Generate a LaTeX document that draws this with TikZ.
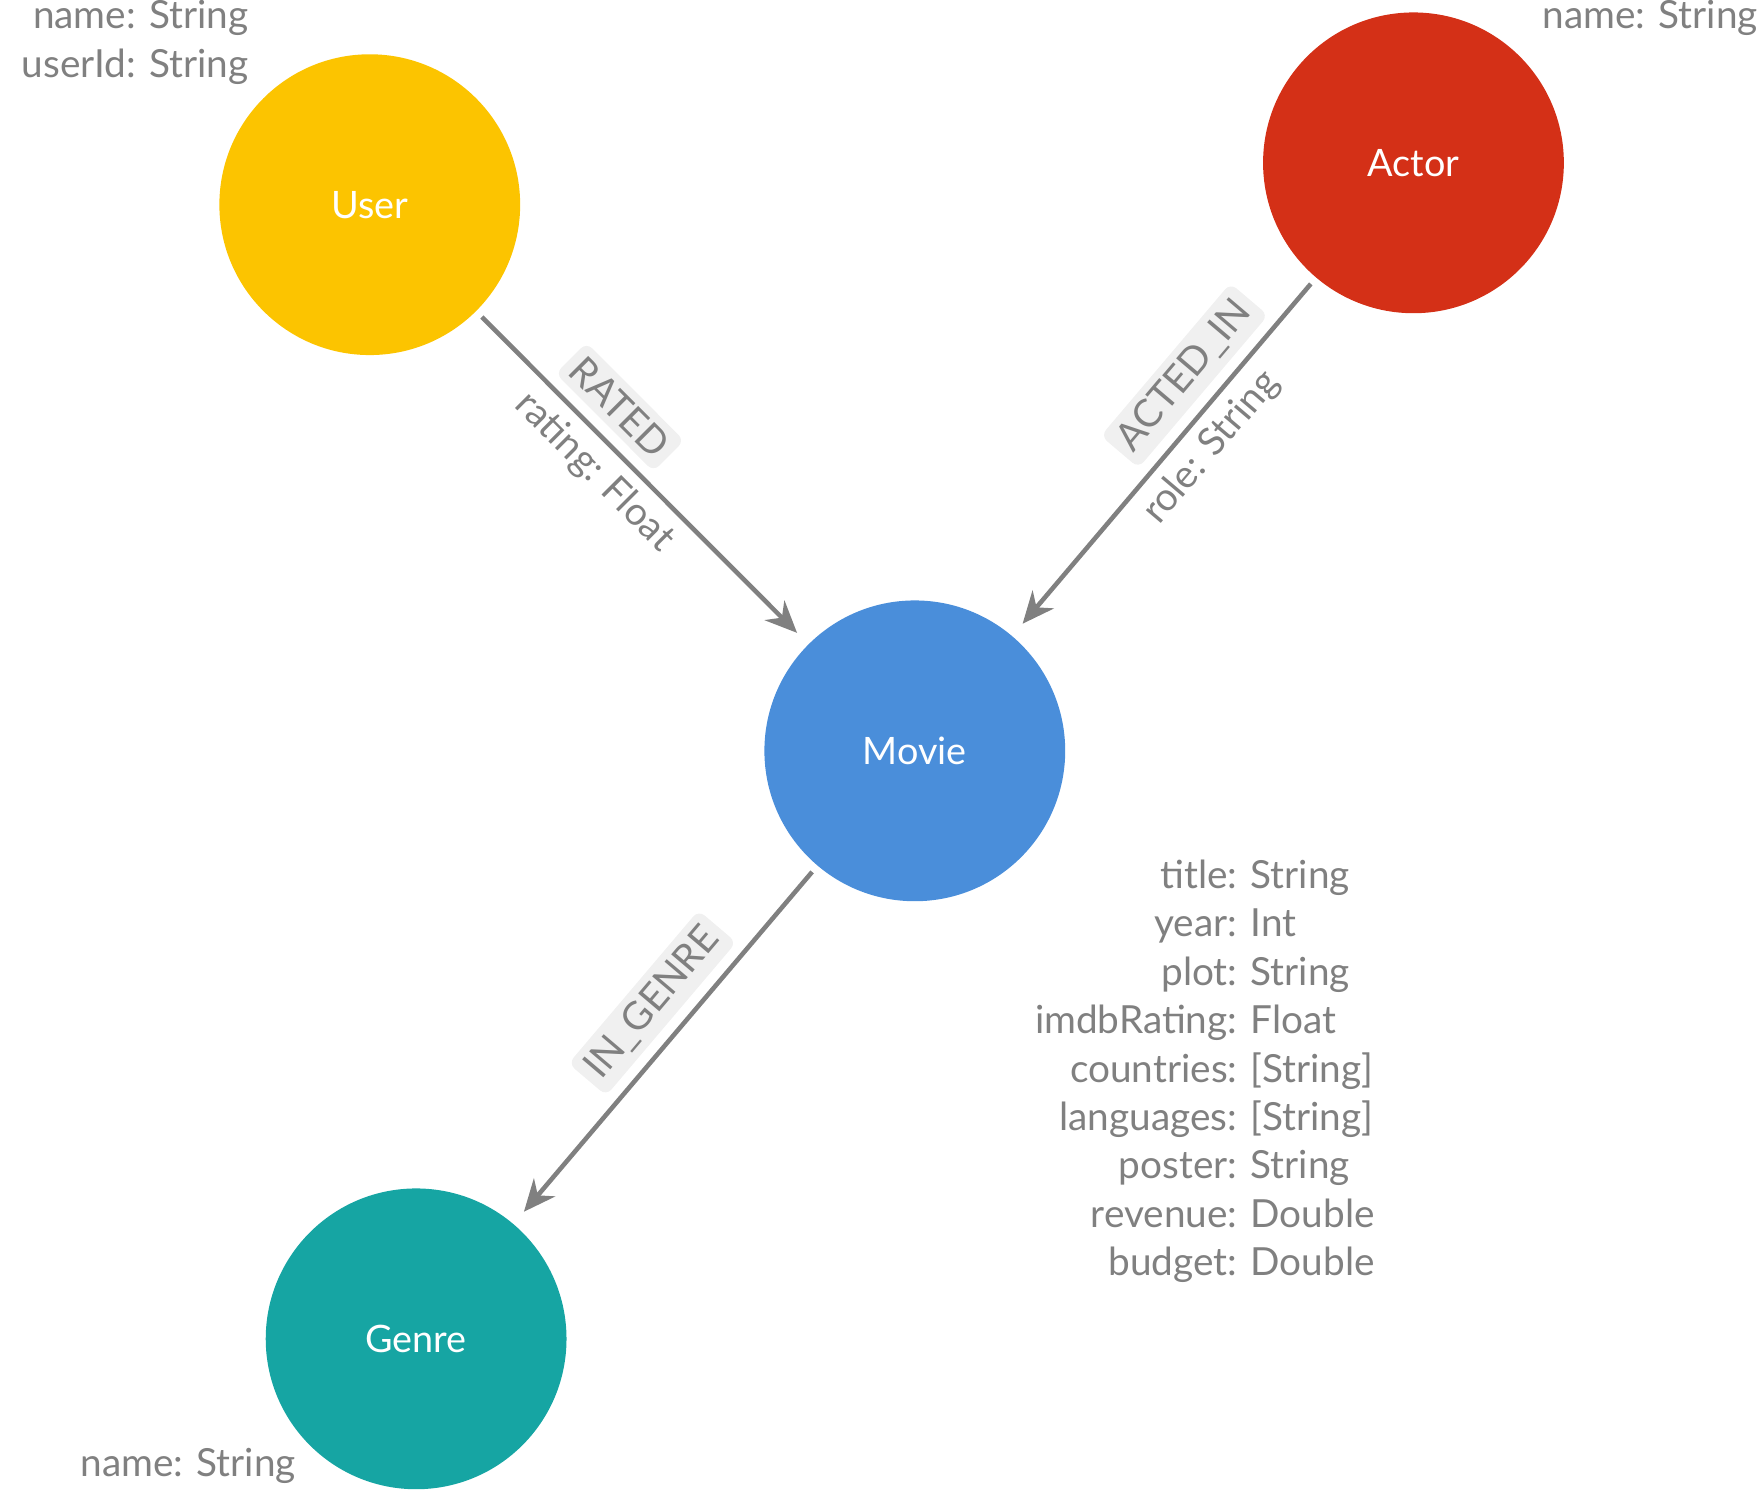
\documentclass[tikz,border=0pt]{standalone}
\usepackage{fontspec}
\setmainfont{Lato}
\usetikzlibrary{arrows.meta}
\definecolor{usercol}{HTML}{FCC400}
\definecolor{actorcol}{HTML}{D43017}
\definecolor{moviecol}{HTML}{4A8EDA}
\definecolor{genrecol}{HTML}{16A5A3}
\definecolor{txtgray}{HTML}{808080}
\begin{document}
\begin{tikzpicture}[
  main node/.style={circle,draw=none,text=white,font=\fontsize{19}{22}\selectfont,minimum size=5.32cm},
  prop/.style={text=txtgray,font=\fontsize{19.5}{24.4}\selectfont,inner sep=0pt},
  rel/.style={draw=txtgray,line width=2.3pt,
    arrows={-Stealth[length=16pt,width=14pt]}},
  rel label/.style={fill=gray!12,rounded corners=4pt,text=txtgray,
    font=\fontsize{19.5}{22}\selectfont,inner sep=4pt,sloped}]
  \useasboundingbox (0,0) rectangle (31.2,-26.36);

  \node[main node,fill=usercol] (user) at (6.54,-3.62) {User};
  \node[main node,fill=actorcol] (actor) at (25.0,-2.88) {Actor};
  \node[main node,fill=moviecol] (movie) at (16.18,-13.28) {Movie};
  \node[main node,fill=genrecol] (genre) at (7.36,-23.68) {Genre};

  % property lists
  \node[prop,anchor=north east,align=right] (userprops) at (4.4,0) {name: String\\userId: String};
  \node[prop,anchor=north east] (actorprops) at (31.1,0) {name: String};
  \node[prop,anchor=north east] (genreprops) at (5.24,-25.6) {name: String};
  \node[prop,anchor=north west] (movieprops) at (18.3,-15.1) {%
    \begin{tabular}{@{}r@{ }l@{}}
      title: & String\\
      year: & Int\\
      plot: & String\\
      imdbRating: & Float\\
      countries: & [String]\\
      languages: & [String]\\
      poster: & String\\
      revenue: & Double\\
      budget: & Double
    \end{tabular}};

  % relationships
  \draw[rel,shorten <=4pt,shorten >=8pt] (user) -- (movie);
  \draw[rel,shorten <=4pt,shorten >=8pt] (actor) -- (movie);
  \draw[rel,shorten <=4pt,shorten >=8pt] (movie) -- (genre);

  \path (user) -- (movie)
    node[rel label,pos=0.36,above=6pt] {RATED}
    node[prop,sloped,pos=0.42,below=6pt] {rating: Float};
  \path (movie) -- (actor)
    node[rel label,pos=0.66,above=6pt] {ACTED\_IN}
    node[prop,sloped,pos=0.58,below=6pt] {role: String};
  \path (genre) -- (movie)
    node[rel label,pos=0.55,above=6pt] {IN\_GENRE};
\end{tikzpicture}
\end{document}
